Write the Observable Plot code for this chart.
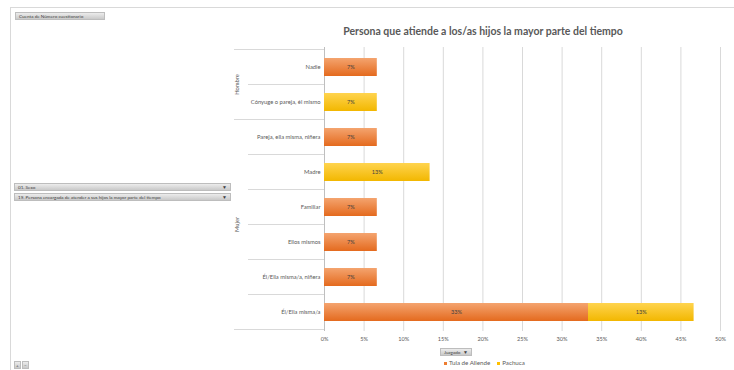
<!DOCTYPE html>
<html>
<head>
<meta charset="utf-8">
<script src="https://cdn.jsdelivr.net/npm/d3@7"></script>
<script src="https://cdn.jsdelivr.net/npm/@observablehq/plot@0.6"></script>
<style>
  html, body { margin: 0; padding: 0; background: #fff; }
  body { width: 734px; height: 370px; position: relative; overflow: hidden; font-family: Lato, "Open Sans", sans-serif; }
  #chart { position: absolute; left: 0; top: 0; }
  .frame-v { position: absolute; left: 10px; top: 7px; width: 0; height: 370px; border-left: 1px solid #d9d9d9; }
  .frame-h { position: absolute; left: 10px; top: 7px; width: 730px; height: 0; border-top: 1px solid #d9d9d9; }
  .btn { position: absolute; box-sizing: border-box; background: linear-gradient(#ececec, #c9c9c9); border: 1px solid #bdbdbd; color: #404040; font-size: 4.6px; line-height: 6px; padding-left: 3px; white-space: nowrap; overflow: hidden; }
  .arrow { position: absolute; right: 3px; top: 0px; font-size: 5px; }
  .title { position: absolute; left: 0; top: 25px; width: 734px; padding-left: 232px; box-sizing: border-box; text-align: center; font-weight: bold; font-size: 10.5px; color: #595959; }
  .legend { position: absolute; top: 359px; left: 444px; font-size: 6.2px; color: #595959; white-space: nowrap; }
  .legend span.sw { display: inline-block; width: 3px; height: 3px; margin-right: 2px; vertical-align: middle; }
  .legend span.item { margin-right: 7px; }
</style>
</head>
<body>
<div id="chart"></div>
<div class="frame-v"></div>
<div class="frame-h"></div>
<div class="btn" style="left:15px;top:12px;width:90px;height:8px;">Cuenta de Número cuestionario</div>
<div class="btn" style="left:14px;top:183px;width:217px;height:8px;">01. Sexo<span class="arrow">▼</span></div>
<div class="btn" style="left:14px;top:193px;width:217px;height:8px;">19. Persona encargada de atender a sus hijos la mayor parte del tiempo<span class="arrow">▼</span></div>
<div class="btn" style="left:440px;top:348px;width:32px;height:8px;">Juzgado<span class="arrow">▼</span></div>
<div class="btn" style="left:14px;top:361px;width:7px;height:8px;padding-left:1px;">+</div>
<div class="btn" style="left:22px;top:361px;width:7px;height:8px;padding-left:1px;">−</div>
<div class="title">Persona que atiende a los/as hijos la mayor parte del tiempo</div>
<div class="legend"><span class="item"><span class="sw" style="background:#ED7D31"></span>Tula de Allende</span><span class="item"><span class="sw" style="background:#FFC000"></span>Pachuca</span></div>
<script>
// ---- data ----
const groups = ["Hombre", "Hombre", "Mujer", "Mujer", "Mujer", "Mujer", "Mujer", "Mujer"];
const categories = [
  "Nadie",
  "Cónyuge o pareja, él mismo",
  "Pareja, ella misma, niñera",
  "Madre",
  "Familiar",
  "Ellos mismos",
  "Él/Ella misma/a, niñera",
  "Él/Ella misma/a"
];
const series = ["Tula de Allende", "Pachuca"];
const tulaValues    = [1/15, 0, 1/15, 0, 1/15, 1/15, 1/15, 5/15];
const pachucaValues = [0, 1/15, 0, 2/15, 0, 0, 0, 2/15];
const xTicks = [0, 0.05, 0.10, 0.15, 0.20, 0.25, 0.30, 0.35, 0.40, 0.45, 0.50];

// ---- table ----
const data = [];
categories.forEach((c, i) => {
  [tulaValues, pachucaValues].forEach((vals, s) => {
    if (vals[i] > 0) data.push({cat: c, group: groups[i], serie: series[s], value: vals[i]});
  });
});

const plot = Plot.plot({
  width: 734,
  height: 370,
  marginLeft: 324,
  marginRight: 14,
  marginTop: 47,
  marginBottom: 39,
  style: {fontFamily: "Lato, 'Open Sans', sans-serif", background: "transparent"},
  x: {domain: [0, 0.5], ticks: xTicks},
  y: {domain: categories, paddingInner: 0.49, paddingOuter: 0.245},
  color: {domain: series, range: ["url(#gOrange)", "url(#gYellow)"]},
  marks: [
    Plot.gridX(xTicks, {stroke: "#d9d9d9", strokeOpacity: 1}),
    Plot.ruleX([0], {stroke: "#bfbfbf"}),
    Plot.axisX(xTicks, {tickSize: 0, tickPadding: 6, fontSize: 5.6, fill: "#595959", tickFormat: d3.format(".0%"), label: null}),
    Plot.axisY({tickSize: 0, tickPadding: 4, fontSize: 5.8, fill: "#595959", label: null}),
    Plot.barX(data, {x: "value", y: "cat", fill: "serie", order: series,
      style: "filter: drop-shadow(0.6px 0.8px 0.6px rgba(0,0,0,0.35))"}),
    Plot.text(data, Plot.stackX({x: "value", y: "cat", z: "serie", order: series,
      text: d => Math.round(d.value * 100) + "%", fontSize: 5.6, fill: "#404040"}))
  ]
});

const svg = d3.select(plot);
const defs = svg.insert("defs", ":first-child");
const g1 = defs.append("linearGradient").attr("id", "gOrange").attr("x1", 0).attr("x2", 0).attr("y1", 0).attr("y2", 1);
g1.append("stop").attr("offset", "0%").attr("stop-color", "#F4A46F");
g1.append("stop").attr("offset", "100%").attr("stop-color", "#E46A1E");
const g2 = defs.append("linearGradient").attr("id", "gYellow").attr("x1", 0).attr("x2", 0).attr("y1", 0).attr("y2", 1);
g2.append("stop").attr("offset", "0%").attr("stop-color", "#FFD44F");
g2.append("stop").attr("offset", "100%").attr("stop-color", "#F2B700");

// category axis separators and group labels, positioned with Plot's y scale
const y = plot.scale("y");
const step = y.step;
const bw = y.bandwidth;
const center = c => y.apply(c) + bw / 2;
const axisX = 324;
const outerX = 234;
const innerX = 248;
const top0 = center(categories[0]) - step / 2;
const bot0 = center(categories[categories.length - 1]) + step / 2;
const extra = svg.append("g").attr("stroke", "#d9d9d9").attr("stroke-width", 1);
extra.append("line").attr("x1", outerX).attr("x2", axisX).attr("y1", top0).attr("y2", top0);
extra.append("line").attr("x1", outerX).attr("x2", axisX).attr("y1", bot0).attr("y2", bot0);
for (let i = 0; i < categories.length - 1; i++) {
  const yy = center(categories[i]) + step / 2;
  const x1 = groups[i] !== groups[i + 1] ? outerX : innerX;
  extra.append("line").attr("x1", x1).attr("x2", axisX).attr("y1", yy).attr("y2", yy);
}
const groupNames = Array.from(new Set(groups));
groupNames.forEach(gn => {
  const cs = categories.filter((c, i) => groups[i] === gn);
  const ym = (center(cs[0]) + center(cs[cs.length - 1])) / 2;
  svg.append("text").attr("transform", `translate(${outerX + 5},${ym}) rotate(-90)`)
    .attr("text-anchor", "middle").attr("font-size", 5.8).attr("fill", "#595959").text(gn);
});

document.getElementById("chart").appendChild(plot);
</script>
</body>
</html>
